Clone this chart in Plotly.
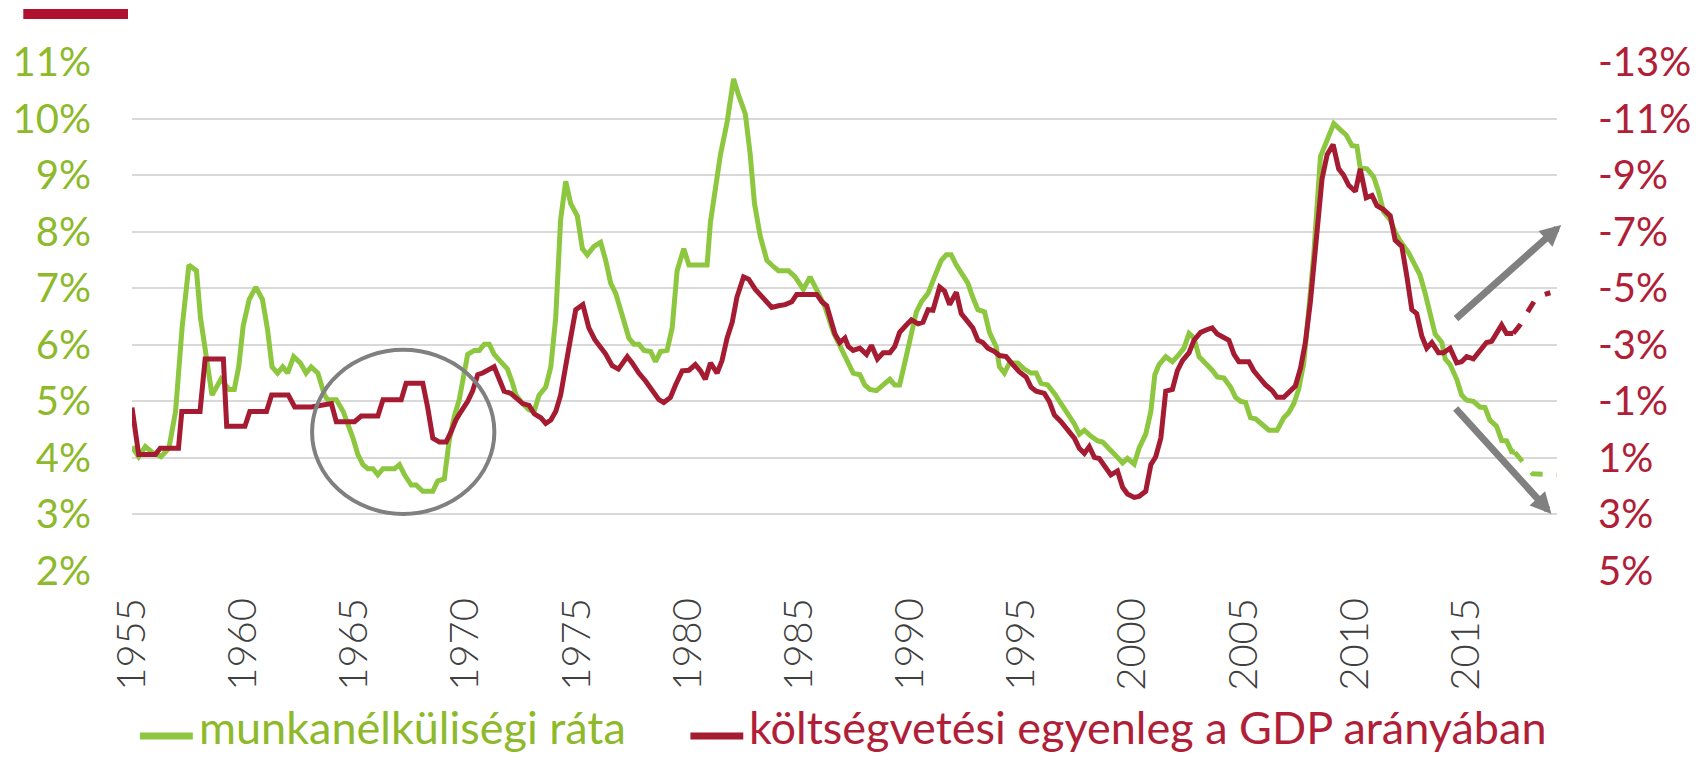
import plotly.graph_objects as go

# ---------------- data (chart-year positions) -------------
unemp_years = [1955.0, 1955.3, 1955.6, 1955.9, 1956.3, 1956.66, 1956.96, 1957.26, 1957.56, 1957.9,
               1958.08, 1958.3, 1958.6, 1959.0, 1959.37, 1959.6, 1959.8, 1960.0, 1960.27, 1960.57,
               1960.87, 1961.1, 1961.3, 1961.55, 1961.78, 1962.0, 1962.27, 1962.57, 1962.83, 1963.06,
               1963.36, 1963.66, 1963.8, 1964.19, 1964.5, 1964.94, 1965.16, 1965.39, 1965.61, 1965.84,
               1966.06, 1966.29, 1966.81, 1967.03, 1967.26, 1967.56, 1967.78, 1968.08, 1968.53, 1968.75,
               1969.05, 1969.27, 1969.5, 1969.72, 1969.95, 1970.1, 1970.4, 1970.62, 1970.85, 1971.07,
               1971.29, 1971.59, 1971.89, 1972.12, 1972.27, 1972.57, 1972.86, 1973.09, 1973.31, 1973.61,
               1973.84, 1974.06, 1974.28, 1974.51, 1974.73, 1975.03, 1975.26, 1975.48, 1975.78, 1976.08,
               1976.31, 1976.53, 1976.76, 1977.06, 1977.35, 1977.58, 1977.8, 1978.03, 1978.33, 1978.55,
               1978.77, 1979.07, 1979.3, 1979.52, 1979.82, 1980.05, 1980.87, 1981.02, 1981.24, 1981.47,
               1981.77, 1982.06, 1982.29, 1982.59, 1982.81, 1983.0, 1983.26, 1983.56, 1983.86, 1984.08,
               1984.53, 1984.83, 1985.2, 1985.5, 1985.88, 1986.18, 1986.55, 1986.84, 1987.14, 1987.44,
               1987.74, 1987.96, 1988.19, 1988.49, 1988.79, 1989.09, 1989.31, 1989.53, 1989.76, 1990.06,
               1990.28, 1990.51, 1990.81, 1991.1, 1991.4, 1991.63, 1991.85, 1992.08, 1992.38, 1992.6,
               1992.82, 1993.05, 1993.35, 1993.57, 1993.87, 1994.02, 1994.24, 1994.47, 1994.84, 1995.14,
               1995.44, 1995.67, 1995.89, 1996.19, 1996.49, 1996.79, 1997.09, 1997.39, 1997.61, 1997.84,
               1998.14, 1998.44, 1998.66, 1998.96, 1999.26, 1999.56, 1999.78, 2000.08, 2000.3, 2000.6,
               2000.83, 2001.01, 2001.2, 2001.5, 2001.8, 2002.1, 2002.32, 2002.55, 2002.77, 2003.0,
               2003.3, 2003.59, 2003.82, 2004.12, 2004.42, 2004.64, 2004.87, 2005.09, 2005.31, 2005.54,
               2005.84, 2006.14, 2006.51, 2006.81, 2007.03, 2007.26, 2007.48, 2007.71, 2007.93, 2008.16,
               2008.46, 2008.76, 2009.06, 2009.36, 2009.62, 2009.88, 2010.1, 2010.25, 2010.55, 2010.85,
               2011.07, 2011.3, 2011.6, 2011.82, 2012.05, 2012.42, 2012.64, 2012.94, 2013.17, 2013.39,
               2013.62, 2013.92, 2014.07, 2014.29, 2014.59, 2014.81, 2015.04, 2015.34, 2015.63, 2015.86,
               2016.08, 2016.38, 2016.61, 2016.83, 2017.06, 2017.2]
unemp_rate = [4.20, 4.02, 4.20, 4.10, 4.02, 4.17, 4.82, 6.33, 7.41, 7.31,
              6.48, 5.83, 5.11, 5.39, 5.21, 5.21, 5.61, 6.33, 6.80, 7.02,
              6.80, 6.26, 5.61, 5.50, 5.61, 5.50, 5.79, 5.68, 5.50, 5.61,
              5.50, 5.11, 5.03, 5.03, 4.82, 4.35, 4.06, 3.88, 3.81, 3.81,
              3.70, 3.81, 3.81, 3.88, 3.70, 3.52, 3.52, 3.41, 3.41, 3.59,
              3.63, 4.31, 4.74, 5.03, 5.54, 5.83, 5.90, 5.90, 6.01, 6.01,
              5.83, 5.70, 5.57, 5.32, 5.11, 4.96, 4.85, 4.82, 5.11, 5.25,
              5.61, 6.48, 8.21, 8.89, 8.50, 8.28, 7.70, 7.59, 7.74, 7.81,
              7.49, 7.09, 6.91, 6.51, 6.12, 6.01, 6.01, 5.90, 5.88, 5.70,
              5.88, 5.90, 6.30, 7.31, 7.70, 7.41, 7.41, 8.17, 8.75, 9.36,
              9.94, 10.70, 10.41, 10.08, 9.36, 8.50, 7.92, 7.49, 7.38, 7.31,
              7.31, 7.20, 6.98, 7.20, 6.91, 6.66, 6.22, 5.97, 5.75, 5.50,
              5.47, 5.29, 5.21, 5.19, 5.29, 5.39, 5.29, 5.29, 5.68, 6.19,
              6.58, 6.76, 6.91, 7.20, 7.49, 7.59, 7.59, 7.41, 7.20, 7.09,
              6.84, 6.62, 6.58, 6.22, 5.97, 5.61, 5.50, 5.68, 5.68, 5.57,
              5.50, 5.50, 5.32, 5.29, 5.14, 4.96, 4.76, 4.60, 4.42, 4.49,
              4.38, 4.30, 4.28, 4.17, 4.04, 3.91, 3.99, 3.89, 4.17, 4.42,
              4.82, 5.47, 5.65, 5.79, 5.70, 5.83, 5.94, 6.20, 6.12, 5.79,
              5.68, 5.55, 5.43, 5.41, 5.25, 5.07, 5.00, 4.98, 4.71, 4.69,
              4.59, 4.49, 4.49, 4.71, 4.80, 4.96, 5.21, 5.68, 6.60, 7.60,
              9.33, 9.62, 9.91, 9.80, 9.71, 9.52, 9.51, 9.13, 9.11, 8.97,
              8.71, 8.35, 8.21, 7.99, 7.83, 7.63, 7.45, 7.23, 6.91, 6.51,
              6.19, 6.04, 5.75, 5.65, 5.39, 5.11, 5.02, 5.00, 4.90, 4.89,
              4.67, 4.56, 4.31, 4.30, 4.11, 4.10]
unemp_fc_years = [2017.2, 2018.0, 2019.1]
unemp_fc_rate = [4.10, 3.72, 3.70]

budget_years = [1955.0, 1955.3, 1956.05, 1956.27, 1957.09, 1957.24, 1958.06, 1958.29, 1959.11, 1959.26,
                1960.08, 1960.3, 1961.05, 1961.28, 1962.03, 1962.32, 1963.07, 1963.97, 1964.19, 1965.01,
                1965.31, 1966.06, 1966.29, 1967.11, 1967.33, 1968.08, 1968.3, 1968.53, 1968.83, 1969.13,
                1969.35, 1969.57, 1969.8, 1970.1, 1970.32, 1970.55, 1970.77, 1971.0, 1971.29, 1971.52,
                1971.74, 1972.04, 1972.27, 1972.57, 1972.86, 1973.09, 1973.39, 1973.61, 1973.84, 1974.06,
                1974.28, 1974.51, 1974.73, 1974.96, 1975.28, 1975.55, 1975.82, 1976.3, 1976.6, 1976.88,
                1977.28, 1977.5, 1977.8, 1978.1, 1978.4, 1978.7, 1978.92, 1979.22, 1979.45, 1979.75,
                1980.05, 1980.34, 1980.57, 1980.79, 1981.02, 1981.32, 1981.54, 1981.77, 1982.0, 1982.21,
                1982.51, 1982.74, 1983.04, 1983.34, 1983.78, 1984.08, 1984.38, 1984.68, 1984.9, 1985.8,
                1986.03, 1986.25, 1986.47, 1986.62, 1986.84, 1987.07, 1987.22, 1987.44, 1987.74, 1988.04,
                1988.26, 1988.53, 1988.79, 1989.09, 1989.31, 1989.53, 1989.83, 1990.06, 1990.36, 1990.58,
                1990.81, 1991.03, 1991.33, 1991.55, 1991.78, 1992.08, 1992.3, 1992.6, 1992.82, 1993.05,
                1993.27, 1993.5, 1993.8, 1994.02, 1994.32, 1994.62, 1994.92, 1995.22, 1995.44, 1995.67,
                1996.04, 1996.26, 1996.49, 1996.79, 1997.09, 1997.39, 1997.61, 1997.84, 1998.06, 1998.29,
                1998.51, 1998.73, 1999.03, 1999.33, 1999.56, 1999.78, 2000.08, 2000.3, 2000.6, 2000.83,
                2001.05, 2001.28, 2001.5, 2001.8, 2002.02, 2002.25, 2002.55, 2002.77, 2003.07, 2003.37,
                2003.59, 2003.82, 2004.12, 2004.34, 2004.57, 2004.79, 2005.24, 2005.46, 2005.69, 2005.99,
                2006.29, 2006.51, 2006.81, 2007.11, 2007.33, 2007.56, 2007.78, 2008.01, 2008.23, 2008.53,
                2008.76, 2009.03, 2009.28, 2009.5, 2009.73, 2010.03, 2010.25, 2010.52, 2010.78, 2011.0,
                2011.3, 2011.6, 2011.82, 2012.12, 2012.35, 2012.57, 2012.79, 2013.02, 2013.24, 2013.47,
                2013.77, 2013.99, 2014.29, 2014.59, 2014.81, 2015.04, 2015.34, 2015.63, 2015.93, 2016.16,
                2016.38, 2016.61, 2016.83, 2017.13]
budget_balance = [-0.78, 0.88, 0.88, 0.66, 0.66, -0.64, -0.64, -2.50, -2.50, -0.12,
                  -0.12, -0.64, -0.64, -1.22, -1.22, -0.80, -0.80, -0.92, -0.28, -0.28,
                  -0.48, -0.48, -1.06, -1.06, -1.64, -1.64, -0.78, 0.30, 0.44, 0.44,
                  0.08, -0.34, -0.64, -1.00, -1.36, -1.94, -2.00, -2.08, -2.22, -1.78,
                  -1.36, -1.28, -1.14, -0.92, -0.86, -0.56, -0.42, -0.22, -0.34, -0.64,
                  -1.22, -2.36, -3.24, -4.24, -4.42, -3.60, -3.18, -2.68, -2.26, -2.14,
                  -2.58, -2.36, -2.00, -1.72, -1.36, -1.06, -0.96, -1.14, -1.58, -2.08,
                  -2.10, -2.30, -2.08, -1.78, -2.36, -2.00, -2.44, -3.24, -3.80, -4.68,
                  -5.40, -5.32, -4.96, -4.68, -4.32, -4.38, -4.42, -4.52, -4.78, -4.78,
                  -4.52, -4.38, -3.80, -3.38, -3.08, -3.24, -2.94, -2.80, -2.88, -2.66,
                  -2.98, -2.50, -2.72, -2.72, -2.94, -3.44, -3.70, -3.88, -3.74, -3.80,
                  -4.24, -4.22, -5.04, -4.90, -4.42, -4.86, -4.10, -3.84, -3.60, -3.16,
                  -3.08, -2.88, -2.76, -2.62, -2.58, -2.30, -2.04, -1.86, -1.50, -1.36,
                  -1.28, -1.00, -0.52, -0.28, -0.02, 0.30, 0.66, 0.84, 0.60, 0.98,
                  1.02, 1.28, 1.60, 1.46, 2.04, 2.28, 2.40, 2.36, 2.18, 1.24,
                  0.96, 0.30, -1.36, -1.42, -2.08, -2.44, -2.72, -3.16, -3.44, -3.54,
                  -3.60, -3.38, -3.24, -3.16, -2.66, -2.40, -2.40, -2.08, -1.86, -1.58,
                  -1.38, -1.14, -1.14, -1.36, -1.54, -2.16, -3.08, -4.54, -6.56, -8.86,
                  -9.72, -10.08, -9.22, -9.00, -8.64, -8.42, -9.22, -8.20, -8.28, -7.92,
                  -7.78, -7.56, -6.70, -6.48, -5.40, -4.24, -4.10, -3.30, -2.88, -3.08,
                  -2.72, -2.72, -2.88, -2.36, -2.40, -2.58, -2.50, -2.80, -3.08, -3.12,
                  -3.44, -3.70, -3.40, -3.40]
budget_fc_years = [2017.13, 2017.4, 2017.84, 2018.2, 2018.8]
budget_fc_balance = [-3.40, -3.66, -4.24, -4.70, -4.84]

x_tick_years = [1955, 1960, 1965, 1970, 1975, 1980, 1985, 1990, 1995, 2000, 2005, 2010, 2015]
left_tick_vals = [2, 3, 4, 5, 6, 7, 8, 9, 10, 11]
right_tick_vals = [-13, -11, -9, -7, -5, -3, -1, 1, 3, 5]

legend_names = ["munkanélküliségi ráta", "költségvetési egyenleg a GDP arányában"]

# ---------------- styling ----------------
GREEN_LINE = "#8DC63F"
GREEN_TEXT = "#8DB92A"
RED_LINE = "#A51B32"
RED_TEXT = "#B01E38"
GRAY = "#808080"
FONT = "Lato"

W, H = 1703, 757
ML, MR, MT, MB = 132, 142, 62, 186
PW, PH = W - ML - MR, H - MT - MB


def px_x(px):
    return (px - ML) / PW


def px_y(py):
    return (H - MB - py) / PH


fig = go.Figure()
fig.add_trace(go.Scatter(x=unemp_years, y=unemp_rate, mode="lines", name=legend_names[0],
                         line=dict(color=GREEN_LINE, width=5), showlegend=False))
fig.add_trace(go.Scatter(x=unemp_fc_years, y=unemp_fc_rate, mode="lines",
                         line=dict(color=GREEN_LINE, width=5, dash="12px,14px"), showlegend=False))
fig.add_trace(go.Scatter(x=budget_years, y=budget_balance, mode="lines", name=legend_names[1], yaxis="y2",
                         line=dict(color=RED_LINE, width=5), showlegend=False))
fig.add_trace(go.Scatter(x=budget_fc_years, y=budget_fc_balance, mode="lines", yaxis="y2",
                         line=dict(color=RED_LINE, width=5, dash="12px,14px"), showlegend=False))

fig.update_layout(
    width=W, height=H,
    margin=dict(l=ML, r=MR, t=MT, b=MB),
    paper_bgcolor="white", plot_bgcolor="white",
    showlegend=False,
    font=dict(family=FONT),
    xaxis=dict(range=[1955, 2019.1], tickvals=x_tick_years, ticktext=[str(v) for v in x_tick_years],
               tickangle=-90, showgrid=False, zeroline=False, showline=False, ticks="",
               ticklabelstandoff=18,
               tickfont=dict(family=FONT, size=40, color="#404040", weight=300)),
    yaxis=dict(range=[2, 11], tickvals=left_tick_vals, ticktext=[f"{v}%" for v in left_tick_vals],
               showgrid=True, gridcolor="#D9D9D9", gridwidth=1.5, zeroline=False, showline=False,
               ticks="", ticklabelstandoff=40,
               tickfont=dict(family=FONT, size=40, color=GREEN_TEXT)),
    yaxis2=dict(range=[5, -13], overlaying="y", side="right", tickvals=right_tick_vals,
                ticktext=[f"{v}%" for v in right_tick_vals],
                showgrid=False, zeroline=False, showline=False, ticks="", ticklabelstandoff=40,
                tickfont=dict(family=FONT, size=40, color=RED_TEXT)),
)

# circle around 1965-1970
fig.add_shape(type="circle", xref="x", yref="y", x0=1963.1, x1=1971.3, y0=3.01, y1=5.91,
              line=dict(color=GRAY, width=4), layer="above")

# arrows
for tip, tail in [((2019.29, 8.12), (2014.49, 6.44)), ((2018.85, 3.01), (2014.48, 4.90))]:
    fig.add_annotation(x=tip[0], y=tip[1], ax=tail[0], ay=tail[1], xref="x", yref="y",
                       axref="x", ayref="y", text="", showarrow=True, arrowhead=2,
                       arrowsize=0.6, arrowwidth=7, arrowcolor=GRAY, standoff=0)

# decorative red bar top-left
fig.add_shape(type="rect", xref="paper", yref="paper", x0=px_x(23), x1=px_x(128),
              y0=px_y(19), y1=px_y(9), fillcolor="#B0112E", line=dict(width=0))

# manual legend
legend_items = [(140, 193, 197, GREEN_LINE, GREEN_TEXT, legend_names[0]),
                (692, 745, 749, RED_LINE, RED_TEXT, legend_names[1])]
for x0, x1, xt, lc, tc, name in legend_items:
    fig.add_shape(type="line", xref="paper", yref="paper", x0=px_x(x0), x1=px_x(x1),
                  y0=px_y(736), y1=px_y(736), line=dict(color=lc, width=7))
    fig.add_annotation(x=px_x(xt), y=px_y(727), xref="paper", yref="paper", text=name,
                       showarrow=False, xanchor="left", yanchor="middle",
                       font=dict(family=FONT, size=45, color=tc))

fig.write_html("out.html", config={"displayModeBar": False},
               post_script="document.body.style.margin='0px';document.body.style.overflow='hidden';")
